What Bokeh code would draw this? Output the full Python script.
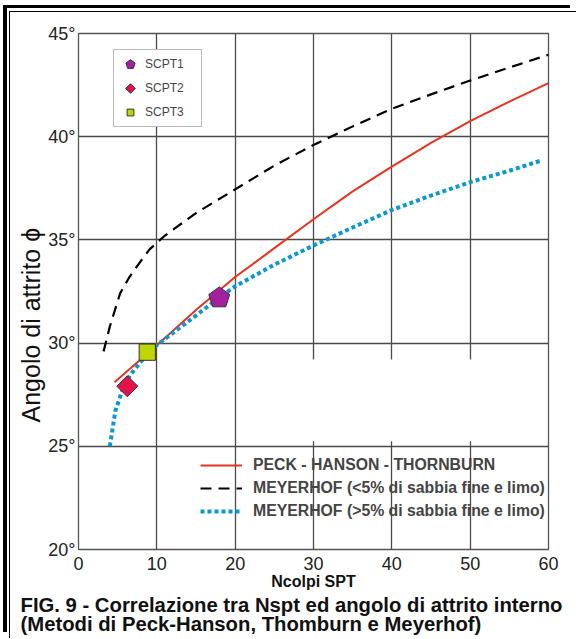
import math
from bokeh.plotting import figure
from bokeh.models import (Range1d, FixedTicker, Legend, LegendItem, Title,
                          BoxAnnotation, ColumnDataSource)
from bokeh.embed import file_html
from bokeh.resources import INLINE

# ---- data ----
peck_n = [4.6, 10, 15, 20, 25, 30, 35, 40, 45, 50, 55, 60]
peck_phi = [28.1, 29.9, 31.6, 33.2, 34.6, 36.0, 37.35, 38.55, 39.7, 40.75, 41.7, 42.6]

mey_lo_n = [3.2, 4.0, 5.3, 6.5, 8.0, 9.1, 11, 15, 20, 25, 30, 35, 40, 45, 50, 55, 60]
mey_lo_phi = [29.6, 30.8, 32.4, 33.2, 34.0, 34.55, 35.2, 36.3, 37.45, 38.6, 39.6,
              40.5, 41.35, 42.05, 42.72, 43.35, 43.97]

mey_hi_n = [4.0, 4.7, 5.7, 6.7, 7.85, 10, 14.7, 17.6, 20, 25, 30, 35, 40, 45, 50, 55, 59.1]
mey_hi_phi = [25.0, 26.7, 27.85, 28.5, 29.05, 29.9, 31.25, 32.1, 32.75, 33.8, 34.73,
              35.6, 36.45, 37.15, 37.8, 38.35, 38.85]

scpt_names = ["SCPT1", "SCPT2", "SCPT3"]
scpt_n = [17.97, 6.23, 8.78]
scpt_phi = [32.19, 27.91, 29.56]

x_ticks = [0, 10, 20, 30, 40, 50, 60]
y_ticks = [20, 25, 30, 35, 40, 45]
y_tick_labels = {t: f"{t}\u00b0" for t in y_ticks}

line_labels = ["PECK - HANSON - THORNBURN",
               "MEYERHOF (<5% di sabbia fine e limo)",
               "MEYERHOF (>5% di sabbia fine e limo)"]
x_title = "Ncolpi SPT"
y_title = "Angolo di attrito \u03d5"
caption1 = "FIG. 9 - Correlazione tra Nspt ed angolo di attrito interno"
caption2 = "(Metodi di Peck-Hanson, Thomburn e Meyerhof)"

FONT = "Liberation Sans"

# page frame: double line on the left and top, drawn as outer shadows in the margin
frame_css = {
    "margin-left": "11px",
    "margin-top": "12px",
    "box-shadow": ("-1px 0px 0 0 white, -2px -1px 0 0 black, "
                   "-4px -4px 0 0 white, -8px -7px 0 0 black"),
}

p = figure(width=567, height=627, output_backend="svg", toolbar_location=None,
           x_range=Range1d(0, 60), y_range=Range1d(20, 45),
           min_border_left=67, min_border_right=30, min_border_top=21,
           min_border_bottom=90, styles=frame_css)

p.background_fill_color = "white"
p.border_fill_color = "white"
p.outline_line_color = "#555555"
p.outline_line_width = 1.3

# axes
for ax in (p.xaxis[0], p.yaxis[0]):
    ax.axis_line_color = None
    ax.major_tick_line_color = None
    ax.minor_tick_line_color = None
    ax.major_label_text_font = FONT
    ax.major_label_text_font_size = "18px"
    ax.major_label_text_color = "#222222"

p.xaxis.ticker = FixedTicker(ticks=x_ticks)
p.yaxis.ticker = FixedTicker(ticks=y_ticks)
p.yaxis.major_label_overrides = y_tick_labels
p.xaxis.major_label_standoff = 1
p.yaxis.major_label_standoff = -3

p.xaxis.axis_label = x_title
p.xaxis.axis_label_text_font = FONT
p.xaxis.axis_label_text_font_style = "bold"
p.xaxis.axis_label_text_font_size = "16px"
p.xaxis.axis_label_standoff = 0
p.xaxis.axis_label_text_color = "#111111"

# y title as a left-side Title (allows shifting along the axis)
ty = Title(text=y_title, align="left", offset=127, text_font=FONT,
           text_font_size="25px", text_font_style="normal", standoff=2,
           text_color="#111111")
p.add_layout(ty, "left")

# grid
p.xgrid.ticker = FixedTicker(ticks=x_ticks)
p.ygrid.ticker = FixedTicker(ticks=y_ticks)
for g in (p.xgrid[0], p.ygrid[0]):
    g.grid_line_color = "#4a4a4a"
    g.grid_line_width = 1.3

# white patch hiding the grid behind the lower legend (as in the reference)
p.add_layout(BoxAnnotation(left=21, right=59.85, bottom=25.25, top=29.2,
                           fill_color="white", fill_alpha=1.0,
                           line_color=None, level="glyph"))

# curves
r_peck = p.line(peck_n, peck_phi, line_color="#E8321E", line_width=2)
r_lo = p.line(mey_lo_n, mey_lo_phi, line_color="black", line_width=2.2,
              line_dash="11 7")
r_hi = p.line(mey_hi_n, mey_hi_phi, line_color="#0B97D0", line_width=4,
              line_dash="4 3")

# markers (regular polygons)
src1 = ColumnDataSource(dict(x=[scpt_n[0]], y=[scpt_phi[0]]))
src2 = ColumnDataSource(dict(x=[scpt_n[1]], y=[scpt_phi[1]]))
src3 = ColumnDataSource(dict(x=[scpt_n[2]], y=[scpt_phi[2]]))
m1 = p.ngon(x="x", y="y", source=src1, radius=11, radius_units="screen", n=5,
            angle=0, fill_color="#A4209E", line_color="#333333", line_width=1)
m2 = p.ngon(x="x", y="y", source=src2, radius=10.5, radius_units="screen", n=4,
            angle=0, fill_color="#E2124A", line_color="#333333", line_width=1)
m3 = p.ngon(x="x", y="y", source=src3, radius=11.5, radius_units="screen", n=4,
            angle=math.pi / 4, fill_color="#BDD600", line_color="#333333",
            line_width=1)

leg1 = Legend(items=[LegendItem(label=scpt_names[0], renderers=[m1]),
                     LegendItem(label=scpt_names[1], renderers=[m2]),
                     LegendItem(label=scpt_names[2], renderers=[m3])],
              location=(35, 422), padding=2, spacing=0, glyph_width=28,
              glyph_height=24, label_standoff=1, label_width=54,
              label_text_font=FONT, label_text_font_size="12px",
              border_line_color="#777777", border_line_width=1,
              background_fill_color="white", background_fill_alpha=1.0,
              margin=0)
leg2 = Legend(items=[LegendItem(label=line_labels[0], renderers=[r_peck]),
                     LegendItem(label=line_labels[1], renderers=[r_lo]),
                     LegendItem(label=line_labels[2], renderers=[r_hi])],
              location=(122, 28), padding=0, spacing=3, glyph_width=42,
              glyph_height=20, label_standoff=11,
              label_text_font=FONT, label_text_font_size="15.8px",
              label_text_font_style="bold",
              border_line_color=None, background_fill_alpha=0.0, margin=0)
p.add_layout(leg1, "center")
p.add_layout(leg2, "center")

# caption below (two lines in one title)
tc = Title(text=caption1 + "\n" + caption2, align="left", offset=-58,
           text_font=FONT, text_font_size="20.3px", text_font_style="bold",
           text_line_height=0.88, standoff=0, text_color="#111111")
p.add_layout(tc, "below")

open("out.html", "w").write(file_html(p, INLINE))
